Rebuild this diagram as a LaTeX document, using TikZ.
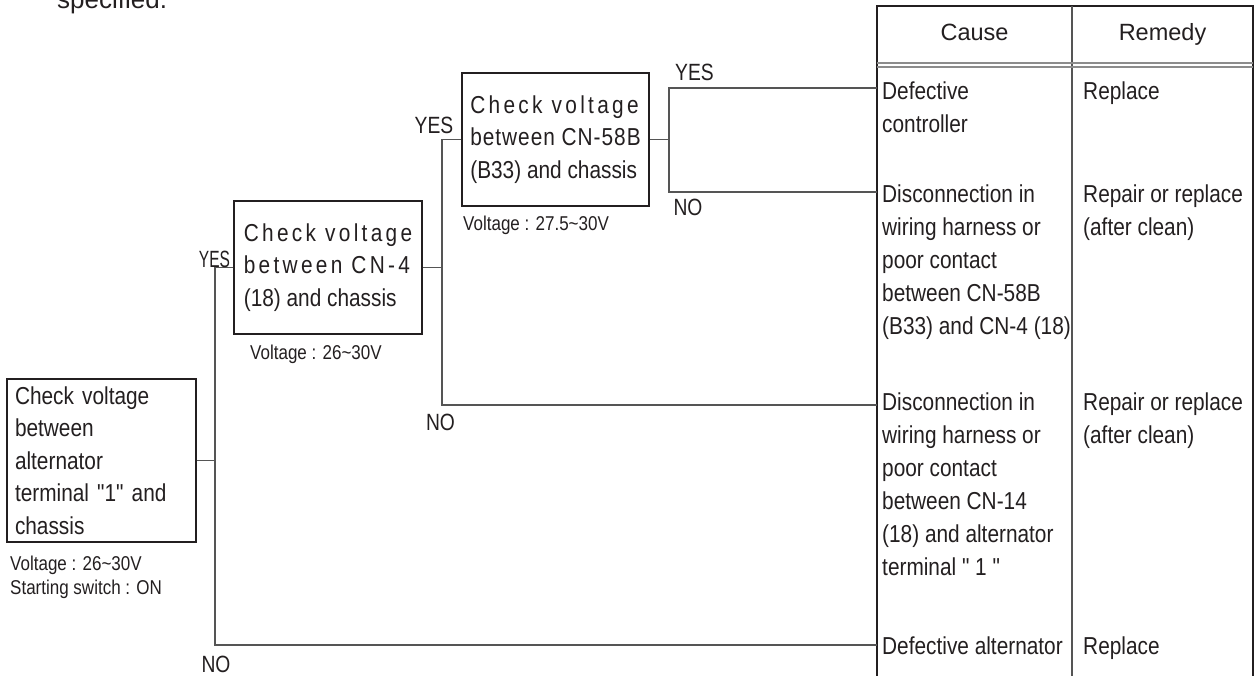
\documentclass[tikz,border=0pt]{standalone}
\usepackage{fontspec}
\setmainfont{Liberation Sans}
\newfontfamily\bodyf[FakeStretch=0.85]{Liberation Sans}
\newfontfamily\wideA[FakeStretch=0.85,LetterSpace=13.5]{Liberation Sans}
\newfontfamily\wideB[FakeStretch=0.85,LetterSpace=4]{Liberation Sans}
\newfontfamily\labf[FakeStretch=0.82]{Liberation Sans}
\newfontfamily\labn[FakeStretch=0.66]{Liberation Sans}
\definecolor{ink}{HTML}{231F20}
\definecolor{wire}{HTML}{555555}
\definecolor{rulegray}{HTML}{8C8C8C}
\begin{document}
\begin{tikzpicture}[x=1pt,y=-1pt,
  chk/.style={draw=ink, line width=1.4pt, inner sep=0pt, align=left, text=ink,
    font=\bodyf\fontsize{24.5}{32.5}\selectfont},
  conn/.style={draw=wire, line width=1.3pt},
  lab/.style={font=\labf\fontsize{23.5}{26}\selectfont, text=ink, inner sep=0pt, anchor=base},
  labnarrow/.style={font=\labn\fontsize{23.5}{26}\selectfont, text=ink, inner sep=0pt, anchor=base},
  txt/.style={font=\bodyf\fontsize{24.5}{33}\selectfont, text=ink, inner sep=0pt, align=left, anchor=base west},
  note/.style={font=\bodyf\fontsize{20}{24}\selectfont, text=ink, inner sep=0pt, align=left, anchor=base west},
  head/.style={font=\fontsize{23.5}{28}\selectfont, text=ink, inner sep=0pt, anchor=base},
  tab/.style={draw=ink, line width=1.5pt},
  colrule/.style={draw=wire, line width=1.3pt},
  dbl/.style={draw=rulegray, line width=1.6pt}
]
\useasboundingbox (0,0) rectangle (1255,675);
\clip (0,0) rectangle (1255,675);

% cut-off text at top
\node[font=\fontsize{26}{30}\selectfont, text=ink, anchor=base west, inner sep=0pt] (spec) at (57,8) {specified.};

% check boxes
\node[chk, minimum width=189, minimum height=163, text width=173, inner xsep=8pt] (b1) at (101.5,460.5)
  {Check voltage\\between\\alternator\\terminal "1" and\\chassis};
\node[chk, minimum width=188, minimum height=133] (b2) at (328,267.5)
  {{\wideA Check voltage}\\{\wideA between CN-4}\\(18) and chassis};
\node[chk, minimum width=187, minimum height=133] (b3) at (555.5,139.5)
  {{\wideA Check voltage}\\{\wideB between CN-58B}\\(B33) and chassis};

% notes (anchor = baseline of the last line)
\node[note] (v1) at (10,594) {Voltage : 26\textasciitilde30V\\Starting switch : ON};
\node[note] (v2) at (250,359) {Voltage : 26\textasciitilde30V};
\node[note] (v3) at (463,230) {Voltage : 27.5\textasciitilde30V};

% table
\draw[tab] (877,680) -- (877,6) -- (1253,6) -- (1253,680);
\draw[colrule] (1072,6) -- (1072,680);
\draw[dbl] (877,63) -- (1253,63);
\draw[dbl] (877,66.8) -- (1253,66.8);
\node[head] (hc) at (974.5,40) {Cause};
\node[head] (hr) at (1162.5,40) {Remedy};

% table texts (anchor = baseline of the last line)
\node[txt] (c1) at (882,132) {Defective\\controller};
\node[txt] (m1) at (1083,99) {Replace};
\node[txt] (c2) at (882,334) {Disconnection in\\wiring harness or\\poor contact\\between CN-58B\\(B33) and CN-4 (18)};
\node[txt] (m2) at (1083,235) {Repair or replace\\(after clean)};
\node[txt] (c3) at (882,575) {Disconnection in\\wiring harness or\\poor contact\\between CN-14\\(18) and alternator\\terminal " 1 "};
\node[txt] (m3) at (1083,443) {Repair or replace\\(after clean)};
\node[txt] (c4) at (882,654) {Defective alternator};
\node[txt] (m4) at (1083,654) {Replace};

% connector end points on the table edge
\coordinate (r1) at (877,88);
\coordinate (r2) at (877,192);
\coordinate (r3) at (877,405);
\coordinate (r4) at (877,645);
\coordinate (j1) at (215,645);
\coordinate (j2) at (442,405);
\coordinate (j3) at (669,88);
\coordinate (j3n) at (669,192);

% connectors
\draw[conn] (b1.east) -- (b1.east -| j1);
\draw[conn] (b2.west) -| (j1) -- (r4);
\draw[conn] (b2.east) -- (b2.east -| j2);
\draw[conn] (b3.west) -| (j2) -- (r3);
\draw[conn] (b3.east) -- (b3.east -| j3);
\draw[conn] (r1) -- (j3) -- (j3n) -- (r2);

% labels
\node[labnarrow] (yes1) at (214.5,267) {YES};
\node[lab] (no1) at (216,672) {NO};
\node[lab] (yes2) at (434,133) {YES};
\node[lab] (no2) at (440.5,430) {NO};
\node[lab] (yes3) at (694.5,80) {YES};
\node[lab] (no3) at (688,215) {NO};
\end{tikzpicture}
\end{document}
